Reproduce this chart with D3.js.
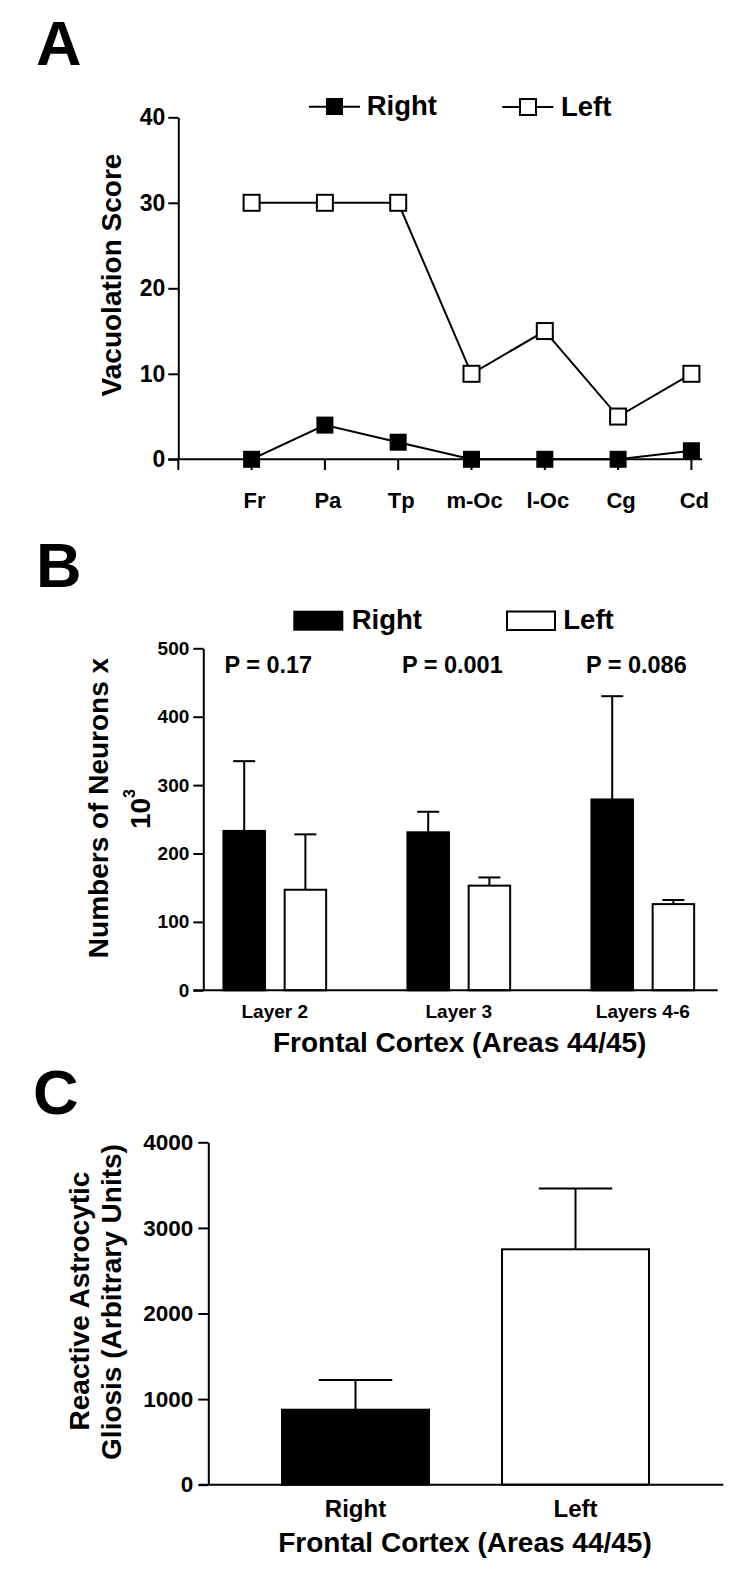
<!DOCTYPE html>
<html>
<head>
<meta charset="utf-8">
<script src="https://d3js.org/d3.v7.min.js"></script>
<style>
body { margin: 0; background: #fff; }
svg text { font-family: "Liberation Sans", Arial, sans-serif; font-weight: bold; fill: #000; }
</style>
</head>
<body>
<svg id="fig" width="750" height="1589"></svg>
<script>
// panel A - vacuolation score per region
var regions = ["Fr", "Pa", "Tp", "m-Oc", "l-Oc", "Cg", "Cd"];
var vacRight = [0, 4, 2, 0, 0, 0, 1];
var vacLeft = [30, 30, 30, 10, 15, 5, 10];
var vacTicks = [0, 10, 20, 30, 40];

// panel B - neuron counts (x 10^3), mean and sem
var layers = ["Layer 2", "Layer 3", "Layers 4-6"];
var neuronsRight = [233, 231, 279];
var neuronsRightErr = [102, 30, 151];
var neuronsLeft = [147, 153, 126];
var neuronsLeftErr = [81, 12, 6];
var pValues = ["P = 0.17", "P = 0.001", "P = 0.086"];
var neuronTicks = [0, 100, 200, 300, 400, 500];

// panel C - reactive astrocytic gliosis
var sides = ["Right", "Left"];
var gliosis = [876, 2750];
var gliosisErr = [347, 710];
var gliosisTicks = [0, 1000, 2000, 3000, 4000];

var fig = {};
fig.svg = d3.select("#fig");

function addText(x, y, txt, size, anchor) {
    return fig.svg.append("text")
        .attr("x", x)
        .attr("y", y)
        .attr("font-size", size)
        .attr("text-anchor", anchor || "start")
        .text(txt);
}

function hline(x1, x2, y) {
    fig.svg.append("line")
        .attr("x1", x1).attr("x2", x2).attr("y1", y).attr("y2", y)
        .attr("stroke", "#000").attr("stroke-width", 2);
}

function vline(x, y1, y2) {
    fig.svg.append("line")
        .attr("x1", x).attr("x2", x).attr("y1", y1).attr("y2", y2)
        .attr("stroke", "#000").attr("stroke-width", 2);
}

function yAxis(scale, x, ticks, size, pad) {
    var g = fig.svg.append("g")
        .attr("transform", "translate(" + x + ",0)")
        .call(d3.axisLeft(scale).tickValues(ticks).tickSize(10).tickSizeOuter(0)
            .tickPadding(pad).tickFormat(d3.format("d")));
    g.attr("font-size", size).attr("font-family", null);
    g.select(".domain").attr("stroke", "#000").attr("stroke-width", 2);
    g.selectAll(".tick line").attr("stroke", "#000").attr("stroke-width", 2);
    return g;
}

function rotLabel(x, y, txt) {
    return fig.svg.append("text")
        .attr("transform", "translate(" + x + "," + y + ") rotate(-90)")
        .attr("font-size", 28)
        .attr("text-anchor", "middle")
        .text(txt);
}

// ---------------- A ----------------
addText(36, 65, "A", 63);

fig.a = {};
fig.a.x = d3.scalePoint().domain(regions).range([251.6, 691.4]);
fig.a.y = d3.scaleLinear().domain([0, 40]).range([459.3, 117.3]);

yAxis(fig.a.y, 178.3, vacTicks, 23, 3);
vline(178.3, fig.a.y(0), 470);
hline(168.3, 702, fig.a.y(0));
regions.forEach(function (r) {
    vline(fig.a.x(r), fig.a.y(0), 470);
    addText(fig.a.x(r) + 3, 508.3, r, 22, "middle");
});

rotLabel(121, 275, "Vacuolation Score");

fig.a.line = d3.line()
    .x(function (d, i) { return fig.a.x(regions[i]); })
    .y(function (d) { return fig.a.y(d); });

[vacLeft, vacRight].forEach(function (series) {
    fig.svg.append("path")
        .datum(series)
        .attr("d", fig.a.line)
        .attr("fill", "none")
        .attr("stroke", "#000")
        .attr("stroke-width", 2);
});

fig.svg.selectAll(".mLeft")
    .data(vacLeft).enter().append("rect")
    .attr("class", "mLeft")
    .attr("x", function (d, i) { return fig.a.x(regions[i]) - 8; })
    .attr("y", function (d) { return fig.a.y(d) - 8; })
    .attr("width", 16).attr("height", 16)
    .attr("fill", "#fff").attr("stroke", "#000").attr("stroke-width", 2);

fig.svg.selectAll(".mRight")
    .data(vacRight).enter().append("rect")
    .attr("class", "mRight")
    .attr("x", function (d, i) { return fig.a.x(regions[i]) - 8.5; })
    .attr("y", function (d) { return fig.a.y(d) - 8.5; })
    .attr("width", 17).attr("height", 17)
    .attr("fill", "#000");

// legend A
hline(309, 360, 106.7);
fig.svg.append("rect").attr("x", 326).attr("y", 98).attr("width", 17).attr("height", 17).attr("fill", "#000");
addText(366.7, 115, "Right", 27.5);
hline(502.3, 553.3, 107);
fig.svg.append("rect").attr("x", 520).attr("y", 99).attr("width", 16).attr("height", 16)
    .attr("fill", "#fff").attr("stroke", "#000").attr("stroke-width", 2);
addText(561, 116, "Left", 27.5);

// ---------------- B ----------------
addText(36, 587, "B", 63);

fig.b = {};
fig.b.x0 = d3.scaleBand().domain(layers).range([182.8, 734.8]);
fig.b.x1 = d3.scaleBand().domain(sides).range([-61.2, 61.2]).paddingInner(0.322).paddingOuter(0.161);
fig.b.y = d3.scaleLinear().domain([0, 500]).range([990.3, 648.3]);

yAxis(fig.b.y, 203.3, neuronTicks, 19, 4);

fig.b.rows = [];
layers.forEach(function (l, i) {
    fig.b.rows.push({ layer: l, side: "Right", v: neuronsRight[i], e: neuronsRightErr[i] });
    fig.b.rows.push({ layer: l, side: "Left", v: neuronsLeft[i], e: neuronsLeftErr[i] });
});
fig.b.cx = function (d) {
    return fig.b.x0(d.layer) + fig.b.x0.bandwidth() / 2 + fig.b.x1(d.side) + fig.b.x1.bandwidth() / 2;
};

fig.b.rows.forEach(function (d) {
    var cx = fig.b.cx(d);
    vline(cx, fig.b.y(d.v), fig.b.y(d.v + d.e));
    hline(cx - 11, cx + 11, fig.b.y(d.v + d.e));
});

fig.svg.selectAll(".barB")
    .data(fig.b.rows).enter().append("rect")
    .attr("class", "barB")
    .attr("x", function (d) { return fig.b.cx(d) - fig.b.x1.bandwidth() / 2; })
    .attr("y", function (d) { return fig.b.y(d.v); })
    .attr("width", fig.b.x1.bandwidth())
    .attr("height", function (d) { return fig.b.y(0) - fig.b.y(d.v); })
    .attr("fill", function (d) { return d.side === "Right" ? "#000" : "#fff"; })
    .attr("stroke", "#000").attr("stroke-width", 2);

hline(193.3, 717.7, fig.b.y(0));

layers.forEach(function (l, i) {
    var c = fig.b.x0(l) + fig.b.x0.bandwidth() / 2;
    addText(c, 1018.3, l, 19, "middle");
    addText(c - 6.5, 673.3, pValues[i], 23.5, "middle");
});
addText(459.7, 1051.7, "Frontal Cortex (Areas 44/45)", 28, "middle");

rotLabel(108, 808, "Numbers of Neurons x");
fig.b.exp = rotLabel(150, 809, "10");
fig.b.exp.append("tspan").attr("dy", -15).attr("font-size", 16).text("3");

// legend B
fig.svg.append("rect").attr("x", 293.3).attr("y", 610.7).attr("width", 50).attr("height", 20).attr("fill", "#000");
addText(351.7, 629.3, "Right", 27.5);
fig.svg.append("rect").attr("x", 507).attr("y", 611.5).attr("width", 48).attr("height", 18.5)
    .attr("fill", "#fff").attr("stroke", "#000").attr("stroke-width", 2);
addText(563.3, 629.3, "Left", 27.5);

// ---------------- C ----------------
addText(33, 1114, "C", 63);

fig.c = {};
fig.c.x = d3.scaleBand().domain(sides).range([245.5, 685.5]).paddingInner(0.332).paddingOuter(0.166);
fig.c.y = d3.scaleLinear().domain([0, 4000]).range([1484.7, 1142.3]);

yAxis(fig.c.y, 208.3, gliosisTicks, 22.5, 5);

sides.forEach(function (s, i) {
    var cx = fig.c.x(s) + fig.c.x.bandwidth() / 2;
    var top = fig.c.y(gliosis[i] + gliosisErr[i]);
    vline(cx, fig.c.y(gliosis[i]), top);
    hline(cx - fig.c.x.bandwidth() / 4, cx + fig.c.x.bandwidth() / 4, top);
});

fig.svg.selectAll(".barC")
    .data(gliosis).enter().append("rect")
    .attr("class", "barC")
    .attr("x", function (d, i) { return fig.c.x(sides[i]); })
    .attr("y", function (d) { return fig.c.y(d); })
    .attr("width", fig.c.x.bandwidth())
    .attr("height", function (d) { return fig.c.y(0) - fig.c.y(d); })
    .attr("fill", function (d, i) { return i === 0 ? "#000" : "#fff"; })
    .attr("stroke", "#000").attr("stroke-width", 2);

hline(199, 723.3, fig.c.y(0));

sides.forEach(function (s) {
    addText(fig.c.x(s) + fig.c.x.bandwidth() / 2, 1517.3, s, 24, "middle");
});
addText(465, 1552.3, "Frontal Cortex (Areas 44/45)", 28, "middle");

rotLabel(89, 1301, "Reactive Astrocytic");
rotLabel(121, 1302, "Gliosis (Arbitrary Units)");
</script>
</body>
</html>
